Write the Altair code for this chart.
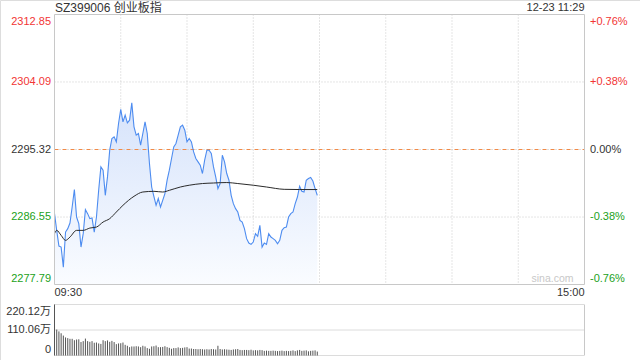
import altair as alt
import pandas as pd

# ---------------- data ----------------
title_text = "SZ399006 创业板指"
stamp_text = "12-23 11:29"
watermark = "sina.com"
prev_close = 2295.32
price_ticks = [2312.85, 2304.09, 2295.32, 2286.55, 2277.79]
pct_labels = ["+0.76%", "+0.38%", "0.00%", "-0.38%", "-0.76%"]
vol_ticks = [220.12, 110.06, 0]
vol_labels = ["220.12万", "110.06万", "0"]
time_labels = ["09:30", "15:00"]
time_label_minutes = [0, 240]
grid_minutes = [30, 60, 90, 120, 150, 180, 210]
session_minutes = 240

price = [
    2286.99, 2284.82, 2282.78, 2282.65, 2280.05, 2284.60, 2285.04, 2285.77, 2287.85, 2290.12,
    2286.55, 2285.69, 2282.65, 2284.39, 2287.51, 2286.99, 2286.34, 2286.42, 2284.60, 2286.55,
    2290.02, 2293.06, 2292.63, 2289.37, 2291.76, 2295.23, 2296.75, 2296.96, 2296.31, 2298.70,
    2300.52, 2298.91, 2299.78, 2298.78, 2299.13, 2301.38, 2298.26, 2297.18, 2297.40, 2295.88,
    2297.40, 2298.91, 2297.40, 2293.50, 2290.45, 2289.24, 2288.07, 2288.95, 2287.85, 2288.72,
    2289.60, 2291.33, 2292.63, 2294.15, 2295.66, 2296.10, 2297.18, 2298.26, 2298.48, 2297.83,
    2296.31, 2296.75, 2296.31, 2295.01, 2294.15, 2293.71, 2293.28, 2292.20, 2293.93, 2295.23,
    2295.23, 2294.80, 2293.06, 2291.76, 2290.25, 2290.90, 2294.58, 2293.71, 2292.20, 2291.33,
    2289.37, 2288.29, 2287.64, 2287.20, 2286.12, 2285.90, 2285.04, 2283.74, 2283.17, 2283.00,
    2283.30, 2284.39, 2284.04, 2285.47, 2282.65, 2283.17, 2283.00, 2284.39, 2283.95, 2283.74,
    2283.52, 2283.09, 2283.52, 2284.82, 2285.17, 2285.25, 2286.55, 2286.99, 2287.20, 2288.29,
    2289.15, 2290.55, 2289.89, 2289.80, 2291.33, 2291.55, 2291.68, 2291.23, 2290.25, 2289.37,
]

avg_minutes = [0, 1, 3, 5, 7, 10, 13, 16, 19, 22, 25, 28, 31, 36, 40, 45, 49, 52, 57, 61,
               67, 72, 78, 83, 90, 96, 104, 111, 119]
avg_price = [2284.39, 2284.82, 2284.17, 2283.52, 2283.95, 2284.82, 2284.82, 2285.12, 2285.25,
             2285.90, 2286.34, 2287.20, 2288.07, 2289.24, 2289.80, 2289.89, 2289.80, 2290.02,
             2290.45, 2290.68, 2290.90, 2290.97, 2291.03, 2290.90, 2290.68, 2290.45, 2290.15,
             2290.12, 2290.12]

volume = [
    220.12, 112, 104, 96, 86, 78, 75, 72, 72, 66,
    69, 70, 58, 62, 73, 62, 59, 62, 55, 56,
    52, 50, 66, 62, 65, 59, 63, 58, 49, 52,
    53, 56, 46, 42, 36, 39, 39, 40, 39, 36,
    42, 39, 32, 29, 39, 40, 43, 36, 36, 37,
    40, 36, 33, 29, 32, 32, 35, 32, 33, 35,
    36, 30, 30, 28, 28, 27, 28, 27, 26, 27,
    26, 28, 27, 26, 42, 28, 26, 27, 26, 25,
    24, 26, 27, 28, 24, 23, 24, 24, 23, 25,
    22, 23, 22, 24, 23, 20, 21, 20, 20, 21,
    20, 19, 20, 21, 19, 20, 19, 20, 22, 19,
    22, 24, 20, 21, 22, 18, 20, 21, 22, 17,
]

# ---------------- tables ----------------
df_price = pd.DataFrame({"minute": list(range(len(price))), "price": price})
df_avg = pd.DataFrame({"minute": avg_minutes, "avg": avg_price})
df_vol = pd.DataFrame({"minute": list(range(len(volume))), "vol": volume})
df_grid = pd.DataFrame({"minute": grid_minutes})
df_pt = pd.DataFrame({
    "price": price_ticks,
    "label": [f"{p:.2f}" for p in price_ticks],
    "pct": pct_labels,
    "kind": ["up" if p > prev_close + 1e-9 else ("down" if p < prev_close - 1e-9 else "flat")
             for p in price_ticks],
})
df_vt = pd.DataFrame({"vol": vol_ticks, "label": vol_labels})
df_prev = pd.DataFrame({"price": [prev_close]})
df_one = pd.DataFrame({"k": [0]})
df_time = pd.DataFrame({"minute": time_label_minutes, "label": time_labels})

# ---------------- layout / style ----------------
LEFT, RIGHT = 54.5, 584.5
MAIN_TOP, MAIN_BOT = 14.5, 284.5
VOL_TOP, VOL_BOT = 304.5, 355.5
FONT = "Liberation Sans, Arial, Noto Sans CJK SC, sans-serif"
RED, GREEN, DARK = "#f23535", "#21a121", "#333333"
GRID = "#cbcbcb"

xs = alt.Scale(domain=[0, session_minutes], range=[LEFT, RIGHT], nice=False, zero=False)
ys = alt.Scale(domain=[price_ticks[-1], price_ticks[0]], range=[MAIN_BOT, MAIN_TOP], nice=False, zero=False)
vs = alt.Scale(domain=[0, vol_ticks[0]], range=[VOL_BOT, VOL_TOP], nice=False, zero=False)
kind_color = alt.Color("kind:N", scale=alt.Scale(domain=["up", "flat", "down"], range=[RED, DARK, GREEN]), legend=None)

X = lambda f: alt.X(f, scale=xs, axis=None)
XD = lambda v: alt.XDatum(v, scale=xs, axis=None)
PY = lambda f: alt.Y(f, scale=ys, axis=None)
PYD = lambda v: alt.YDatum(v, scale=ys, axis=None)
VY = lambda f: alt.Y(f, scale=vs, axis=None)
VYD = lambda v: alt.YDatum(v, scale=vs, axis=None)

# ---- price panel ----
vgrid = alt.Chart(df_grid).mark_rule(color=GRID, strokeDash=[1, 2], strokeWidth=1).encode(
    x=X("minute:Q"), y=PYD(price_ticks[0]), y2=alt.Y2Datum(price_ticks[-1]))
hgrid = alt.Chart(df_pt.iloc[[1, 3]]).mark_rule(color=GRID, strokeDash=[1, 2], strokeWidth=1).encode(
    x=XD(0), x2=alt.X2Datum(session_minutes), y=PY("price:Q"))
prevline = alt.Chart(df_prev).mark_rule(color="#f08a48", strokeDash=[4, 4], strokeWidth=1).encode(
    x=XD(0), x2=alt.X2Datum(session_minutes), y=PY("price:Q"))
prevdots = alt.Chart(df_prev).mark_rule(color="#c0c0c0", strokeDash=[1, 7], strokeDashOffset=-5, strokeWidth=1).encode(
    x=XD(0), x2=alt.X2Datum(session_minutes), y=PY("price:Q"))
gradient = alt.Gradient(
    gradient="linear",
    stops=[alt.GradientStop(color="#d6e3fb", offset=0), alt.GradientStop(color="#fafcff", offset=1)],
    x1=1, x2=1, y1=0, y2=1)
area = alt.Chart(df_price).mark_area(color=gradient).encode(
    x=X("minute:Q"), y=PY("price:Q"), y2=alt.Y2Datum(price_ticks[-1]))
pline = alt.Chart(df_price).mark_line(color="#4d8cf0", strokeWidth=1.1).encode(
    x=X("minute:Q"), y=PY("price:Q"))
aline = alt.Chart(df_avg).mark_line(color="#2a2a2a", strokeWidth=1, interpolate="monotone").encode(
    x=X("minute:Q"), y=PY("avg:Q"))
border = alt.Chart(df_one).mark_rect(fillOpacity=0, stroke="#c8c8c8", strokeWidth=1).encode(
    x=XD(0), x2=alt.X2Datum(session_minutes), y=PYD(price_ticks[0]), y2=alt.Y2Datum(price_ticks[-1]))

def side_labels(df, field, x_px, align):
    layers = []
    for sub, base in ((df.iloc[[0]], "top"), (df.iloc[1:-1], "middle"), (df.iloc[[-1]], "bottom")):
        dy = 1 if base == "top" else (-0.5 if base == "bottom" else 0)
        layers.append(alt.Chart(sub).mark_text(align=align, baseline=base, fontSize=11, font=FONT, dy=dy).encode(
            x=alt.value(x_px), y=PY("price:Q"), text=f"{field}:N", color=kind_color))
    return layers

left_labels = side_labels(df_pt, "label", 51, "right")
right_labels = side_labels(df_pt, "pct", 590, "left")

time_left = alt.Chart(df_time.iloc[[0]]).mark_text(align="left", baseline="middle", fontSize=11, font=FONT, color=DARK).encode(
    x=X("minute:Q"), y=alt.value(293), text="label:N")
time_right = alt.Chart(df_time.iloc[[1]]).mark_text(align="right", baseline="middle", fontSize=11, font=FONT, color=DARK).encode(
    x=X("minute:Q"), y=alt.value(293), text="label:N")
wm = alt.Chart(pd.DataFrame({"t": [watermark]})).mark_text(align="right", baseline="middle", fontSize=10.5, font=FONT, color="#c8c8c8").encode(
    x=alt.value(573.5), y=alt.value(279), text="t:N")
title = alt.Chart(pd.DataFrame({"t": [title_text]})).mark_text(align="left", baseline="middle", fontSize=12, font=FONT, color=DARK).encode(
    x=alt.value(55), y=alt.value(7.5), text="t:N")
stamp = alt.Chart(pd.DataFrame({"t": [stamp_text]})).mark_text(align="right", baseline="middle", fontSize=11, font=FONT, color=DARK).encode(
    x=alt.value(584.5), y=alt.value(8), text="t:N")

price_group = alt.layer(vgrid, hgrid, area, prevdots, prevline, pline, aline, border,
                        *left_labels, *right_labels, time_left, time_right, wm, title, stamp)

# ---- volume panel ----
vlines = alt.Chart(df_vt).mark_rule(color="#b8b8b8", strokeDash=[1, 1], strokeWidth=1).encode(
    x=XD(0), x2=alt.X2Datum(session_minutes), y=VY("vol:Q"))
vborder = alt.Chart(df_one).mark_rule(color="#c8c8c8", strokeWidth=1).encode(
    x=XD(session_minutes), y=VYD(0), y2=alt.Y2Datum(vol_ticks[0]))
bars = alt.Chart(df_vol).mark_rule(color="#555555", strokeWidth=1).encode(
    x=X("minute:Q"), y=VY("vol:Q"), y2=alt.Y2Datum(0))

vol_label_layers = []
for sub, base in ((df_vt.iloc[[0]], "top"), (df_vt.iloc[1:-1], "middle"), (df_vt.iloc[[-1]], "bottom")):
    dy = 1 if base == "top" else (-0.5 if base == "bottom" else 0)
    vol_label_layers.append(alt.Chart(sub).mark_text(align="right", baseline=base, fontSize=11, font=FONT, color=DARK, dy=dy).encode(
        x=alt.value(51), y=VY("vol:Q"), text="label:N"))

vol_group = alt.layer(vlines, vborder, bars, *vol_label_layers)

chart = (
    alt.layer(price_group, vol_group)
    .resolve_scale(y="independent")
    .properties(width=640, height=360, autosize=alt.AutoSizeParams(type="none"), padding=0)
    .configure_view(stroke="transparent")
    .configure(background="white")
)

chart.save("out.html", embed_options={"renderer": "svg", "actions": False})
